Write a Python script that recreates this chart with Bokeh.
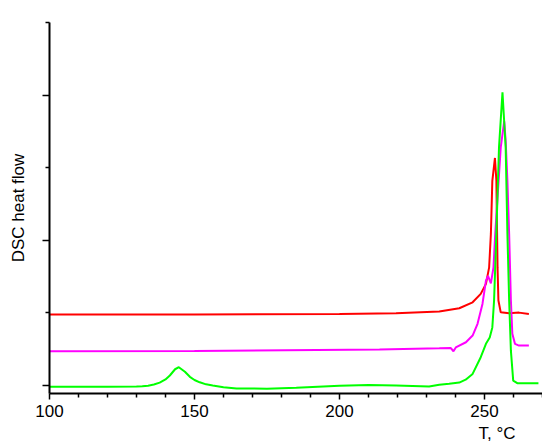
import math
from bokeh.plotting import figure
from bokeh.models import FixedTicker, Range1d, Title
from bokeh.embed import file_html
from bokeh.resources import INLINE

# ---- data ----
green_t = [100, 120, 130, 132, 134, 136, 138, 140, 141.5, 143.3, 144.6, 146.7, 148.4, 150, 151.8, 154, 156.3,
           160, 164.5, 175, 185.1, 200, 210, 219.5, 230.9, 234.4, 237.8, 241.3, 243.5, 245.9,
           248.7, 250.5, 251.8, 252.7, 253.3, 253.9, 255.0, 256.2, 257.3, 257.9, 258.5,
           259.1, 259.9, 261.3, 268.6]
green_v = [-0.008, -0.008, -0.007, -0.005, -0.001, 0.007, 0.020, 0.042, 0.069, 0.112, 0.126, 0.095, 0.060, 0.038, 0.022, 0.008, 0.0,
           -0.012, -0.020, -0.022, -0.016, -0.002, 0.003, 0.0, -0.007, 0.005, 0.012, 0.020, 0.040, 0.080,
           0.195, 0.287, 0.330, 0.400, 0.585, 0.930, 1.640, 2.020, 1.640, 1.044, 0.585,
           0.240, 0.034, 0.016, 0.016]

red_t = [100, 150, 200, 219.5, 234.4, 241.3, 245.9, 248.7, 250.5, 251.6, 252.2, 252.7,
         253.6, 254.1, 254.5, 254.8, 255.6, 258.5, 261.9, 265.3]
red_v = [0.489, 0.489, 0.492, 0.498, 0.509, 0.532, 0.573, 0.631, 0.700, 0.814, 1.044, 1.410,
         1.567, 1.410, 0.810, 0.585, 0.504, 0.498, 0.502, 0.493]

mag_t = [100, 150, 213.8, 234.4, 238.4, 239.3, 240.1, 243.6, 245.9, 247.6, 249.3, 250.5,
         251.2, 252.2, 253.1, 253.7, 255.6, 256.8, 257.3, 257.9, 258.5, 259.1, 259.6,
         260.5, 261.9, 265.3]
mag_v = [0.236, 0.237, 0.248, 0.256, 0.258, 0.236, 0.262, 0.298, 0.344, 0.425, 0.562, 0.723,
         0.755, 0.704, 0.814, 1.044, 1.640, 1.820, 1.686, 1.410, 1.044, 0.585, 0.356,
         0.287, 0.275, 0.275]

x_major = [100, 150, 200, 250]
x_minor = [110, 120, 130, 140, 160, 170, 180, 190, 210, 220, 230, 240, 260, 270]
y_major = [0, 1, 2]
y_minor = [0.5, 1.5, 2.5]

FONT = "Liberation Sans"

p = figure(width=542, height=445, output_backend="svg", toolbar_location=None,
           x_range=Range1d(100, 270), y_range=Range1d(-0.055, 2.5),
           min_border_left=49, min_border_right=0, min_border_top=22, min_border_bottom=52)
p.outline_line_color = None
p.grid.visible = False
p.background_fill_color = "white"
p.border_fill_color = "white"

p.line(red_t, red_v, line_color="#FF0000", line_width=2)
p.line(mag_t, mag_v, line_color="#FF00FF", line_width=2)
p.line(green_t, green_v, line_color="#00FF00", line_width=2)

xa = p.xaxis[0]
xa.ticker = FixedTicker(ticks=x_major, minor_ticks=x_minor)
xa.axis_line_width = 2
xa.axis_line_color = "black"
xa.major_tick_line_width = 1.5
xa.minor_tick_line_width = 1.5
xa.major_tick_out = 6
xa.major_tick_in = 0
xa.minor_tick_out = 4
xa.minor_tick_in = 0
xa.major_label_text_font = FONT
xa.major_label_text_font_size = "17px"
xa.major_label_text_color = "black"
xa.major_label_standoff = 5

ya = p.yaxis[0]
ya.ticker = FixedTicker(ticks=y_major, minor_ticks=y_minor)
ya.axis_line_width = 2
ya.axis_line_color = "black"
ya.major_tick_line_width = 1.5
ya.minor_tick_line_width = 1.5
ya.major_tick_out = 7
ya.major_tick_in = 0
ya.minor_tick_out = 4
ya.minor_tick_in = 0
ya.major_label_overrides = {0: "", 1: "", 2: ""}
ya.axis_label = "DSC heat flow"
ya.axis_label_text_font = FONT
ya.axis_label_text_font_size = "17px"
ya.axis_label_text_font_style = "normal"
ya.axis_label_text_color = "black"
ya.axis_label_standoff = 15

xt = Title(text="T, °C", align="right", offset=27, standoff=5,
           text_font=FONT, text_font_size="17px", text_font_style="normal",
           text_color="black")
p.add_layout(xt, "below")

open("out.html", "w").write(file_html(p, INLINE))
